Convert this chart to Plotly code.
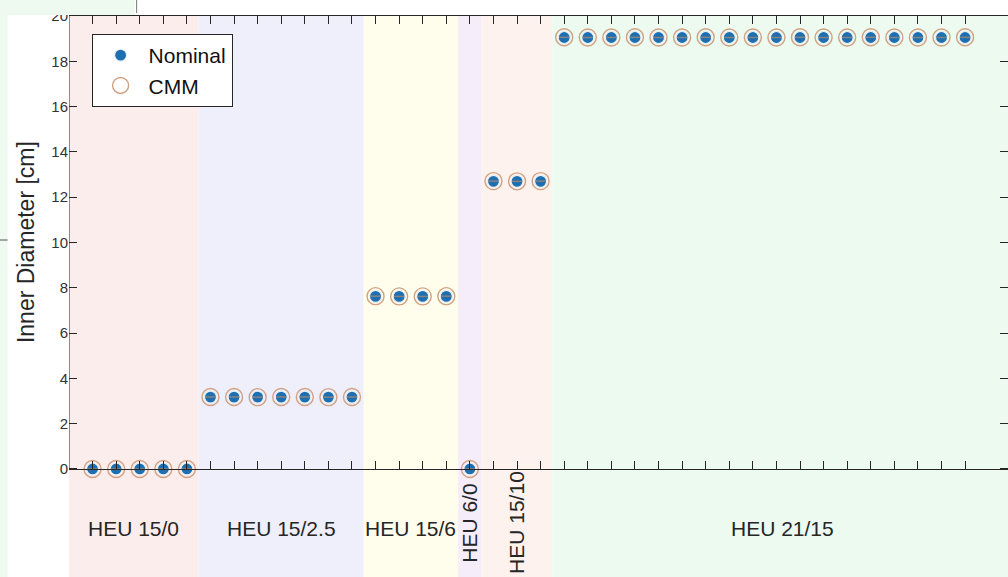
import plotly.graph_objects as go

# ---------------- data ----------------
group_names = ["HEU 15/0", "HEU 15/2.5", "HEU 15/6", "HEU 6/0", "HEU 15/10", "HEU 21/15"]
group_counts = [5, 7, 4, 1, 3, 18]
group_rotated = [False, False, False, True, True, False]
band_colors = ["#FCEDED", "#EEEFFA", "#FFFEEC", "#F6EDFA", "#FDF2EE", "#ECFAF0"]

sample_index = list(range(1, 39))
nominal_diam = [0.0, 0.0, 0.0, 0.0, 0.0,
                3.175, 3.175, 3.175, 3.175, 3.175, 3.175, 3.175,
                7.62, 7.62, 7.62, 7.62,
                0.0,
                12.7, 12.7, 12.7,
                19.05, 19.05, 19.05, 19.05, 19.05, 19.05, 19.05, 19.05, 19.05,
                19.05, 19.05, 19.05, 19.05, 19.05, 19.05, 19.05, 19.05, 19.05]
cmm_diam = [0.0, 0.0, 0.0, 0.0, 0.0,
            3.18, 3.18, 3.17, 3.18, 3.18, 3.17, 3.18,
            7.63, 7.62, 7.62, 7.63,
            0.0,
            12.71, 12.70, 12.71,
            19.06, 19.05, 19.05, 19.06, 19.05, 19.05, 19.06, 19.05, 19.05,
            19.05, 19.06, 19.05, 19.05, 19.06, 19.05, 19.05, 19.05, 19.06]
nominal_err = [0.01] * 38
cmm_err = [0.01] * 38
y_ticks = list(range(0, 21, 2))

# ---------------- layout geometry ----------------
W, H = 1008, 577
ML, MT = 69.4, 16
x_range = [0, 39.82]
y_range = [-4.77, 20]
x_full = 40

def px_x(p):
    return (p - ML) / (W - ML)

def px_y(p):
    return (H - p) / (H - MT)

fig = go.Figure()

# Nominal
fig.add_trace(go.Scatter(
    x=sample_index, y=nominal_diam, mode="markers", name="Nominal",
    marker=dict(symbol="circle", size=12, color="#1F6FB0",
                line=dict(color="#E8F0F8", width=1.2)),
    error_y=dict(type="data", array=nominal_err, visible=True,
                 color="#1F6FB0", thickness=1, width=4),
    cliponaxis=False,
))
# CMM
fig.add_trace(go.Scatter(
    x=sample_index, y=cmm_diam, mode="markers", name="CMM",
    marker=dict(symbol="circle-open", size=17, color="#D2A182",
                line=dict(width=1.4)),
    error_y=dict(type="data", array=cmm_err, visible=True,
                 color="rgba(180,140,110,0.6)", thickness=1, width=5),
    cliponaxis=False,
))
# dummy for top axis
fig.add_trace(go.Scatter(x=[None], y=[None], xaxis="x2", yaxis="y",
                         showlegend=False, hoverinfo="skip"))

# background bands & labels
edges = [0.0]
cum = 0
for c in group_counts[:-1]:
    cum += c
    edges.append(cum + 0.5)
edges.append(x_full)

shapes = []
annotations = []
for i, name in enumerate(group_names):
    x0, x1 = edges[i], edges[i + 1]
    shapes.append(dict(type="rect", xref="x", yref="y", x0=x0, x1=x1,
                       y0=-10, y1=y_range[1], fillcolor=band_colors[i],
                       line=dict(width=0), layer="below"))
    annotations.append(dict(
        x=(x0 + x1) / 2, y=-2.38 if group_rotated[i] else -2.65,
        xref="x", yref="y", text=name, showarrow=False,
        textangle=-90 if group_rotated[i] else 0,
        font=dict(family="Liberation Sans, Arial", size=21, color="#262626"),
        xanchor="center", yanchor="middle"))

# left axis line (only from 0 to 20)
shapes.append(dict(type="line", xref="x", yref="y", x0=0, x1=0, y0=0, y1=20,
                   line=dict(color="#262626", width=1), layer="above"))

# screenshot artifacts at top-left
shapes.append(dict(type="rect", xref="paper", yref="paper",
                   x0=px_x(0), x1=px_x(8), y0=px_y(577), y1=px_y(0),
                   fillcolor="#EEF9F0", line=dict(width=0), layer="above"))
shapes.append(dict(type="rect", xref="paper", yref="paper",
                   x0=px_x(0), x1=px_x(135), y0=px_y(15), y1=px_y(0),
                   fillcolor="#EEF9F0", line=dict(width=0), layer="above"))
shapes.append(dict(type="line", xref="paper", yref="paper",
                   x0=px_x(137), x1=px_x(137), y0=px_y(13), y1=px_y(0),
                   line=dict(color="#777777", width=1), layer="above"))
shapes.append(dict(type="line", xref="paper", yref="paper",
                   x0=px_x(0), x1=px_x(8), y0=px_y(240), y1=px_y(240),
                   line=dict(color="#555555", width=1), layer="above"))

# y-axis title
annotations.append(dict(
    x=px_x(27), y=10, xref="paper", yref="y", text="Inner Diameter [cm]",
    textangle=-90, showarrow=False, xanchor="center", yanchor="middle",
    font=dict(family="Liberation Sans, Arial", size=23, color="#262626")))

zero_pos = (0 - y_range[0]) / (y_range[1] - y_range[0])

fig.update_layout(
    width=W, height=H,
    margin=dict(l=ML, r=0, t=MT, b=0, pad=0, autoexpand=False),
    paper_bgcolor="white", plot_bgcolor="white",
    shapes=shapes, annotations=annotations,
    font=dict(family="Liberation Sans, Arial", color="#262626"),
    xaxis=dict(range=x_range, anchor="free", position=zero_pos,
               showline=True, linecolor="#262626", linewidth=1,
               ticks="inside", ticklen=8, tickcolor="#262626",
               tickvals=sample_index, showticklabels=False,
               showgrid=False, zeroline=False, automargin=False),
    xaxis2=dict(range=x_range, overlaying="x", side="top", anchor="y",
                showline=True, linecolor="#262626", linewidth=1,
                ticks="inside", ticklen=8, tickcolor="#262626",
                tickvals=sample_index, showticklabels=False,
                showgrid=False, zeroline=False, automargin=False),
    yaxis=dict(range=y_range, tickvals=y_ticks, ticks="inside", ticklen=8,
               tickcolor="#262626", showline=False, mirror="ticks",
               showgrid=False, zeroline=False, automargin=False,
               tickfont=dict(size=15, color="#333333")),
    legend=dict(x=px_x(92), y=px_y(34), xanchor="left", yanchor="top",
                bgcolor="white", bordercolor="#262626", borderwidth=1,
                itemwidth=46, font=dict(size=21, color="#111111")),
    showlegend=True,
)

fig.write_html(
    "out.html",
    config={"displayModeBar": False},
    post_script="document.body.style.margin='0';document.body.style.overflow='hidden';",
)
